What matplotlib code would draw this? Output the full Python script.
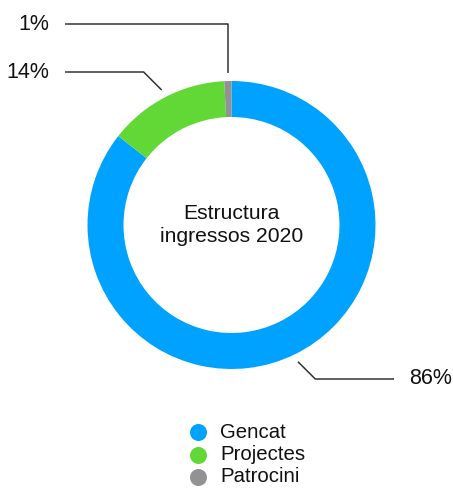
import numpy as np
import matplotlib
matplotlib.use("Agg")
import matplotlib.pyplot as plt

categories = ["Gencat", "Projectes", "Patrocini"]
values = [85.6, 13.6, 0.8]
labels = ["86%", "14%", "1%"]
colors = ["#00A2FF", "#61D836", "#929292"]
center_title = "Estructura\ningressos 2020"

W, H = 453, 488
plt.rcParams['font.family'] = ['Liberation Sans', 'DejaVu Sans']
fig = plt.figure(figsize=(W / 100, H / 100), dpi=100)
ax = fig.add_axes([0, 0, 1, 1])

cx, cy = 231.5, H - 225
R, width = 144, 36
wedges, _ = ax.pie(values, colors=colors, startangle=90, counterclock=False,
                   center=(cx, cy), radius=R,
                   wedgeprops=dict(width=width, linewidth=0))
ax.set_xlim(0, W)
ax.set_ylim(0, H)
ax.set_aspect('equal')
ax.axis('off')

ax.text(cx, cy, center_title, ha='center', va='center', fontsize=15.2,
        linespacing=1.33, color='#111111')

# leader lines: (label y in px, text x, alignment, style)
label_layout = [
    (379, 409, 'left', 'diag'),
    (72, 49, 'right', 'diag'),
    (24, 49, 'right', 'vert'),
]
line_color = '#333333'
for w, lab, (ly, tx, ha, style) in zip(wedges, labels, label_layout):
    mid = np.deg2rad((w.theta1 + w.theta2) / 2)
    r0 = R + 8
    x0 = cx + r0 * np.cos(mid)
    y0 = cy + r0 * np.sin(mid)
    yl = H - ly
    if style == 'diag':
        d = abs(yl - y0)
        sx = np.sign(np.cos(mid))
        x1 = x0 + sx * d
    else:
        x1 = x0
    xe = tx - 15 if ha == 'left' else tx + 16
    ax.plot([x0, x1, xe], [y0, yl, yl], color=line_color, lw=1.1,
            solid_capstyle='butt')
    ax.text(tx, yl, lab, ha=ha, va='center', fontsize=15.5, color='#111111')

# legend
leg_x, leg_y0, leg_dy = 198, 432, 22.5
for i, (cat, col) in enumerate(zip(categories, colors)):
    y = H - (leg_y0 + i * leg_dy)
    ax.scatter([leg_x], [y], s=(17 * 0.72) ** 2, color=col, linewidths=0)
    ax.text(leg_x + 22, y, cat, ha='left', va='center', fontsize=14.7,
            color='#111111')

fig.savefig('out.png', dpi=100)
